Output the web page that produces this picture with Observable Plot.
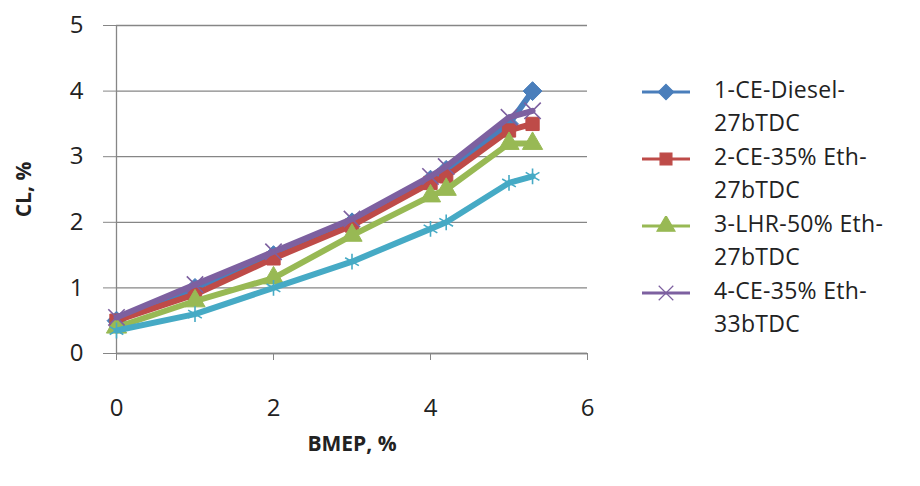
<!DOCTYPE html>
<html>
<head>
<meta charset="utf-8">
<script src="https://cdn.jsdelivr.net/npm/d3@7"></script>
<script src="https://cdn.jsdelivr.net/npm/@observablehq/plot@0.6"></script>
<style>
  html, body { margin: 0; padding: 0; background: #fff; }
  #wrap { position: relative; width: 920px; height: 486px; font-family: "Open Sans", sans-serif; overflow: hidden; }
  #legend { position: absolute; left: 640px; top: 76px; }
  .item { display: flex; align-items: flex-start; height: 67px; }
  .item svg { flex: none; margin-top: 6px; }
  .item span { font-size: 23px; line-height: 33px; color: #222; margin-left: 2px; margin-top: -3px; white-space: nowrap; letter-spacing: 0.3px; }
</style>
</head>
<body>
<div id="wrap"><div id="chart"></div><div id="legend"></div></div>
<script>
const seriesNames = ["1-CE-Diesel-27bTDC", "2-CE-35% Eth-27bTDC", "3-LHR-50% Eth-27bTDC", "4-CE-35% Eth-33bTDC", "5"];
const legendLines = [["1-CE-Diesel-", "27bTDC"], ["2-CE-35% Eth-", "27bTDC"], ["3-LHR-50% Eth-", "27bTDC"], ["4-CE-35% Eth-", "33bTDC"]];
const colors = ["#4A7EBB", "#BE4B48", "#98B954", "#7D60A0", "#46AAC5"];
const symbols = ["diamond2", "square", "triangle", "times", "asterisk"];
const bmep = [0, 1, 2, 3, 4, 4.2, 5, 5.3];
const cl1 = [0.5, 1.0, 1.5, 2.0, 2.65, 2.8, 3.5, 4.0];
const cl2 = [0.5, 0.9, 1.45, 1.95, 2.6, 2.7, 3.4, 3.5];
const cl3 = [0.4, 0.8, 1.15, 1.8, 2.4, 2.5, 3.2, 3.2];
const cl4 = [0.55, 1.05, 1.55, 2.05, 2.7, 2.85, 3.6, 3.7];
const cl5 = [0.35, 0.6, 1.0, 1.4, 1.9, 2.0, 2.6, 2.7];
const xTicks = [0, 2, 4, 6];
const yTicks = [0, 1, 2, 3, 4, 5];

const allCl = [cl1, cl2, cl3, cl4, cl5];
const data = allCl.flatMap((arr, s) => arr.map((v, i) => ({series: seriesNames[s], s, x: bmep[i], y: v})));

const grid = "#868686";
const marks = [
  Plot.gridY(yTicks, {stroke: grid, strokeOpacity: 1, strokeWidth: 1.3}),
  Plot.axisY(yTicks, {tickSize: 13, stroke: grid, tickPadding: 20, fontSize: 24, fill: "#222", tickFormat: "d",
    label: "CL, %", labelAnchor: "center", labelArrow: "none", labelOffset: 100}),
  Plot.axisX(xTicks, {tickSize: 7, stroke: grid, tickPadding: 38, fontSize: 24, fill: "#222", tickFormat: "d",
    label: "BMEP, %", labelAnchor: "center", labelArrow: "none", labelOffset: 97}),
  Plot.ruleX([0], {stroke: grid, strokeWidth: 1.3, y1: 0, y2: 5}),
  Plot.ruleY([0], {stroke: grid, strokeWidth: 1.3}),
];
for (let s = 0; s < 5; s++) {
  const d = data.filter(p => p.s === s);
  marks.push(Plot.line(d, {x: "x", y: "y", stroke: colors[s], strokeWidth: 6}));
  const filled = s < 3;
  marks.push(Plot.dot(d, {x: "x", y: "y", symbol: () => symbols[s], r: s === 0 ? 8.5 : 7.5,
    fill: filled ? colors[s] : "none", stroke: colors[s], strokeWidth: filled ? 1 : 1.6}));
}

const chart = Plot.plot({
  width: 620, height: 486,
  marginLeft: 116, marginRight: 33, marginTop: 25, marginBottom: 133,
  x: {domain: [0, 6]},
  y: {domain: [0, 5]},
  style: {fontFamily: "'Open Sans', sans-serif", background: "transparent"},
  marks
});
document.getElementById("chart").appendChild(chart);
chart.querySelectorAll('[aria-label="y-axis label"] text, [aria-label="x-axis label"] text').forEach(t => {
  t.setAttribute("font-weight", "bold"); t.setAttribute("font-size", "21");
});

const legend = d3.select("#legend");
legendLines.forEach((lines, s) => {
  const item = legend.append("div").attr("class", "item");
  const svg = item.append("svg").attr("width", 72).attr("height", 20);
  svg.append("line").attr("x1", 2).attr("x2", 50).attr("y1", 10).attr("y2", 10)
    .attr("stroke", colors[s]).attr("stroke-width", 3);
  const sym = d3.symbol().type([d3.symbolDiamond2, d3.symbolSquare, d3.symbolTriangle, d3.symbolTimes][s]).size(s === 0 ? 150 : 140);
  const filled = s < 3;
  svg.append("path").attr("d", sym()).attr("transform", "translate(26,10)")
    .attr("fill", filled ? colors[s] : "none").attr("stroke", colors[s]).attr("stroke-width", 1.2);
  item.append("span").html(lines.join("<br>"));
});
</script>
</body>
</html>
